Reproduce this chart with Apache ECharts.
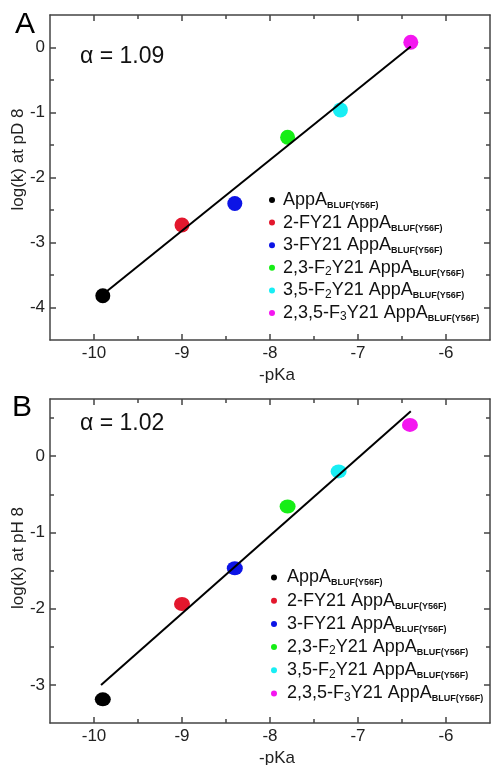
<!DOCTYPE html>
<html>
<head>
<meta charset="utf-8">
<script src="https://cdn.jsdelivr.net/npm/echarts@6/dist/echarts.min.js"></script>
<style>
  html, body { margin: 0; padding: 0; background: #fff; }
  #chart { width: 491px; height: 765px; }
</style>
</head>
<body>
<div id="chart"></div>
<script>
// compounds (legend order)
const compounds = [
  'AppA BLUF(Y56F)',
  '2-FY21 AppA BLUF(Y56F)',
  '3-FY21 AppA BLUF(Y56F)',
  '2,3-F2Y21 AppA BLUF(Y56F)',
  '3,5-F2Y21 AppA BLUF(Y56F)',
  '2,3,5-F3Y21 AppA BLUF(Y56F)'
]
const compoundLabels = [
  '{n|AppA}{s|BLUF(Y56F)}',
  '{n|2-FY21 AppA}{s|BLUF(Y56F)}',
  '{n|3-FY21 AppA}{s|BLUF(Y56F)}',
  '{n|2,3-F}{d|2}{n|Y21 AppA}{s|BLUF(Y56F)}',
  '{n|3,5-F}{d|2}{n|Y21 AppA}{s|BLUF(Y56F)}',
  '{n|2,3,5-F}{d|3}{n|Y21 AppA}{s|BLUF(Y56F)}'
]
const colors = ['#000000', '#e3172d', '#0c14e6', '#16ee16', '#18eef4', '#f416f0']

// panel A: log(k) at pD 8
const pKaA = [-9.9, -9.0, -8.4, -7.8, -7.2, -6.4]
const logkA = [-3.82, -2.73, -2.40, -1.38, -0.96, 0.08]
const fitXA = [-9.9, -6.4]
const fitYA = [-3.80, 0.015]
const alphaA = '1.09'

// panel B: log(k) at pH 8
const pKaB = [-9.9, -9.0, -8.4, -7.8, -7.22, -6.41]
const logkB = [-3.19, -1.94, -1.47, -0.66, -0.20, 0.41]
const fitXB = [-9.92, -6.40]
const fitYB = [-3.0, 0.59]
const alphaB = '1.02'

// ticks
const xMajor = [-10, -9, -8, -7, -6]
const xMinor = [-10, -9.5, -9, -8.5, -8, -7.5, -7, -6.5, -6]
const yMajorA = [-4, -3, -2, -1, 0]
const yMinorA = [-4, -3.5, -3, -2.5, -2, -1.5, -1, -0.5, 0]
const yMajorB = [-3, -2, -1, 0]
const yMinorB = [-3, -2.5, -2, -1.5, -1, -0.5, 0, 0.5]

const FONT = 'Arial, "Liberation Sans", Helvetica, sans-serif'
const spine = { show: true, onZero: false, lineStyle: { color: '#444', width: 1.5 } }
const noLine = { show: false, onZero: false }

const chart = echarts.init(document.getElementById('chart'))

const xAxes = []
const yAxes = []

const addAxes = (grid, yMin, yMax, yMajor, yMinor, yName, yNamePad) => {
  const xBase = { gridIndex: grid, type: 'value', min: -10.5, max: -5.5, splitLine: { show: false } }
  const yBase = { gridIndex: grid, type: 'value', min: yMin, max: yMax, splitLine: { show: false } }
  const sides = [['bottom', true], ['top', false]]
  sides.forEach(([pos, labels]) => {
    xAxes.push(Object.assign({}, xBase, {
      position: pos,
      axisLine: spine,
      axisTick: { inside: true, length: 6, customValues: xMajor, lineStyle: { color: '#444', width: 1.5 } },
      axisLabel: labels
        ? { show: true, customValues: xMajor, margin: 5, fontSize: 17, color: '#222', fontFamily: FONT }
        : { show: false },
      name: labels ? '-pKa' : '',
      nameLocation: 'middle',
      nameGap: 27,
      nameMoveOverlap: false,
      nameTextStyle: { fontSize: 17, color: '#222', fontFamily: FONT, padding: [0, 0, 0, 14] }
    }))
    xAxes.push(Object.assign({}, xBase, {
      position: pos,
      axisLine: noLine,
      axisTick: { inside: true, length: 4, customValues: xMinor, lineStyle: { color: '#444', width: 1.5 } },
      axisLabel: { show: false }
    }))
  })
  const ySides = [['left', true], ['right', false]]
  ySides.forEach(([pos, labels]) => {
    yAxes.push(Object.assign({}, yBase, {
      position: pos,
      axisLine: spine,
      axisTick: { inside: true, length: 6, customValues: yMajor, lineStyle: { color: '#444', width: 1.5 } },
      axisLabel: labels
        ? { show: true, customValues: yMajor, margin: 5, fontSize: 17, color: '#222', fontFamily: FONT }
        : { show: false },
      name: labels ? yName : '',
      nameLocation: 'middle',
      nameGap: 23,
      nameMoveOverlap: false,
      nameTextStyle: { fontSize: 17, color: '#222', fontFamily: FONT, padding: yNamePad }
    }))
    yAxes.push(Object.assign({}, yBase, {
      position: pos,
      axisLine: noLine,
      axisTick: { inside: true, length: 4, customValues: yMinor, lineStyle: { color: '#444', width: 1.5 } },
      axisLabel: { show: false }
    }))
  })
}

addAxes(0, -4.5, 0.5, yMajorA, yMinorA, 'log(k) at pD 8', [0, 0, 0, 36])
addAxes(1, -3.5, 0.75, yMajorB, yMinorB, 'log(k) at pH 8', [0, 0, 0, 6])

const series = []
const addPanel = (grid, xs, ys, fx, fy, size) => {
  // axes of this grid: 4 x and 4 y, the first one is the main one
  const xi = grid * 4
  const yi = grid * 4
  compounds.forEach((name, i) => {
    series.push({
      name: name,
      type: 'scatter',
      xAxisIndex: xi,
      yAxisIndex: yi,
      symbol: 'circle',
      symbolSize: size,
      itemStyle: { color: colors[i], opacity: 1 },
      z: 2,
      data: [[xs[i], ys[i]]]
    })
  })
  series.push({
    type: 'line',
    xAxisIndex: xi,
    yAxisIndex: yi,
    symbol: 'none',
    lineStyle: { color: '#000', width: 2 },
    z: 3,
    data: fx.map((x, i) => [x, fy[i]])
  })
}
addPanel(0, pKaA, logkA, fitXA, fitYA, 15)
addPanel(1, pKaB, logkB, fitXB, fitYB, [16, 14])

const legendText = (pad) => ({
  fontFamily: FONT,
  padding: [0, 0, 0, pad],
  rich: {
    n: { fontSize: 18, color: '#111', fontFamily: FONT, lineHeight: 20 },
    d: { fontSize: 12, color: '#111', fontFamily: FONT, lineHeight: 12, verticalAlign: 'bottom' },
    s: { fontSize: 9, fontWeight: 'bold', color: '#111', fontFamily: FONT, lineHeight: 8, verticalAlign: 'bottom' }
  }
})
const legendFormatter = (name) => compoundLabels[compounds.indexOf(name)]

const option = {
  animation: false,
  backgroundColor: '#fff',
  grid: [
    { left: 50, right: 1, top: 15, height: 325, containLabel: false, outerBoundsMode: 'none' },
    { left: 50, right: 1, top: 399, height: 324, containLabel: false, outerBoundsMode: 'none' }
  ],
  xAxis: xAxes,
  yAxis: yAxes,
  legend: [
    {
      data: compounds, orient: 'vertical', left: 269, top: 191, padding: 0,
      icon: 'circle', itemWidth: 6, itemHeight: 6, itemGap: 3.6,
      formatter: legendFormatter, textStyle: legendText(3), selectedMode: false
    },
    {
      data: compounds, orient: 'vertical', left: 271, top: 568.5, padding: 0,
      icon: 'circle', itemWidth: 6, itemHeight: 6, itemGap: 4.2,
      formatter: legendFormatter, textStyle: legendText(5), selectedMode: false
    }
  ],
  graphic: [
    { type: 'text', left: 15, top: 10, style: { text: 'A', fontSize: 30, fontFamily: FONT, fill: '#000' } },
    { type: 'text', left: 12, top: 393, style: { text: 'B', fontSize: 30, fontFamily: FONT, fill: '#000' } },
    { type: 'text', left: 80, top: 45, style: { text: 'α = ' + alphaA, fontSize: 23, fontFamily: FONT, fill: '#111' } },
    { type: 'text', left: 80, top: 412, style: { text: 'α = ' + alphaB, fontSize: 23, fontFamily: FONT, fill: '#111' } }
  ],
  series: series
}

chart.setOption(option)
</script>
</body>
</html>
